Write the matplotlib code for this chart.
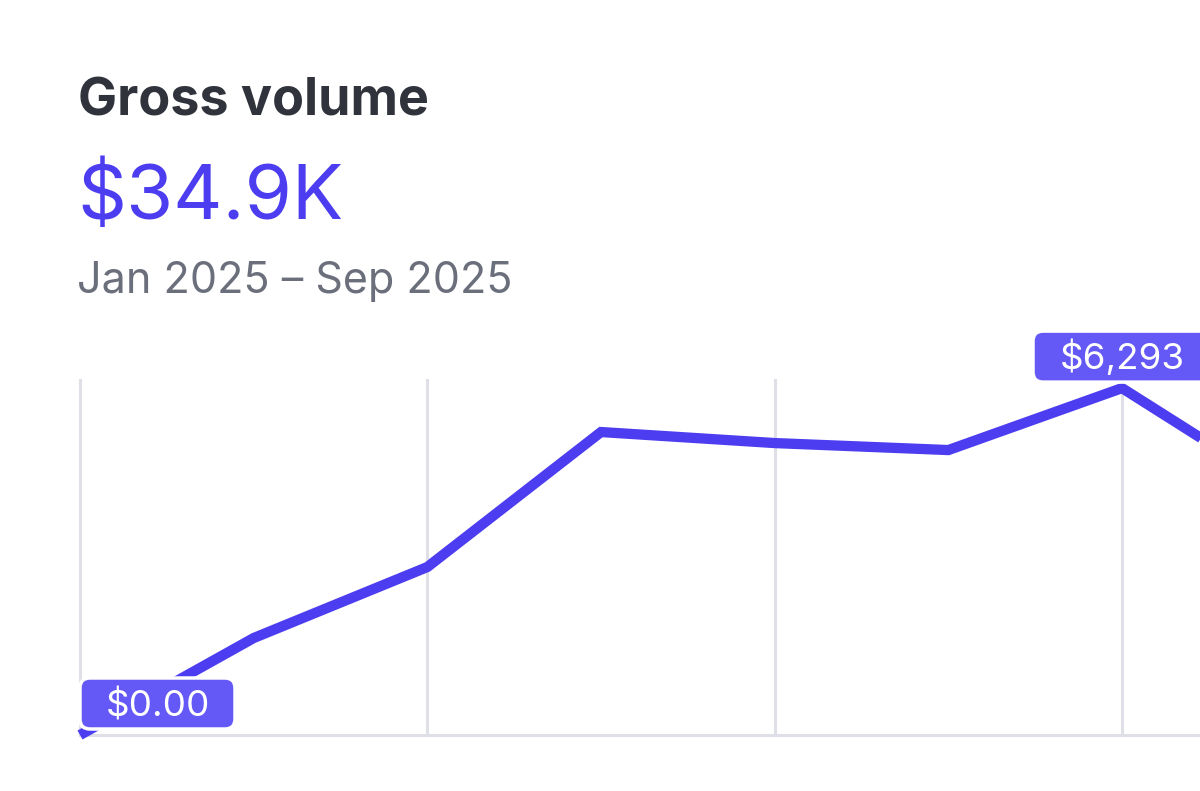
import matplotlib
matplotlib.use("Agg")
import matplotlib.pyplot as plt
from matplotlib.patches import FancyBboxPatch
from matplotlib.transforms import ScaledTranslation

# ---- data ----
months = ["Jan", "Feb", "Mar", "Apr", "May", "Jun", "Jul", "Aug", "Sep"]
values = [0, 1759, 3047, 5496, 5296, 5169, 6293, 4300, 3540]
title = "Gross volume"
total_label = "$34.9K"
period_label = "Jan 2025 \u2013 Sep 2025"
grid_months = ["Jan", "Mar", "May", "Jul"]

LINE = "#4d3df0"
BOX = "#6459f6"
GRID = "#dfe0e7"
TITLE_C = "#30333b"
SUB_C = "#6b6f7b"

plt.rcParams["font.family"] = ["Inter", "DejaVu Sans"]

W, H, DPI = 1200, 791, 100
fig = plt.figure(figsize=(W / DPI, H / DPI), dpi=DPI)
fig.patch.set_facecolor("white")

def px(x, y):
    return x / W, 1 - y / H

# axes area: x 80..1200 px, y 380..735 px
ax = fig.add_axes([80 / W, 1 - 735 / H, 1 - 80 / W, (735 - 380) / H])
ax.set_facecolor("none")
for s in ax.spines.values():
    s.set_visible(False)
ax.set_xticks([])
ax.set_yticks([])

xs = list(range(len(months)))
ax.set_xlim(0, 6.449)
ax.set_ylim(0, 6440)
ax.set_autoscale_on(False)

for m in grid_months:
    ax.axvline(months.index(m), color=GRID, lw=2.2, zorder=1, clip_on=False)
ax.axhline(0, color=GRID, lw=2.2, zorder=1, clip_on=False)

ax.plot(xs, values, color=LINE, lw=7.4, solid_joinstyle="miter",
        solid_capstyle="butt", zorder=3, clip_on=False)

# value callouts: (index, text, box-left px offset, box width px)
imin = values.index(min(values))
imax = values.index(max(values))
callouts = [
    (imin, f"${values[imin]:,.2f}", 0, 155),
    (imax, f"${values[imax]:,.0f}", -89, 178),
]
for i, txt, left, wid in callouts:
    tr = fig.dpi_scale_trans + ScaledTranslation(xs[i], values[i], ax.transData)
    box = FancyBboxPatch((left / DPI, 6 / DPI), wid / DPI, 51 / DPI,
                         boxstyle="round,pad=0,rounding_size=0.1",
                         facecolor=BOX, edgecolor="white", lw=2.5,
                         transform=tr, zorder=5, clip_on=False)
    ax.add_artist(box)
    cx = left + wid / 2
    ax.annotate(txt, xy=(xs[i], values[i]), xytext=(cx * 0.72, 19 * 0.72),
                textcoords="offset points", ha="center", va="baseline",
                color="white", fontsize=26.5, zorder=6, annotation_clip=False)

fig.text(*px(78, 115), title, fontsize=37.5, fontweight="bold",
         color=TITLE_C, ha="left", va="baseline")
fig.text(*px(77, 219), total_label, fontsize=55, color=LINE,
         ha="left", va="baseline")
fig.text(*px(77, 293), period_label, fontsize=31, color=SUB_C,
         ha="left", va="baseline")

fig.savefig("out.png", dpi=DPI, facecolor="white")
